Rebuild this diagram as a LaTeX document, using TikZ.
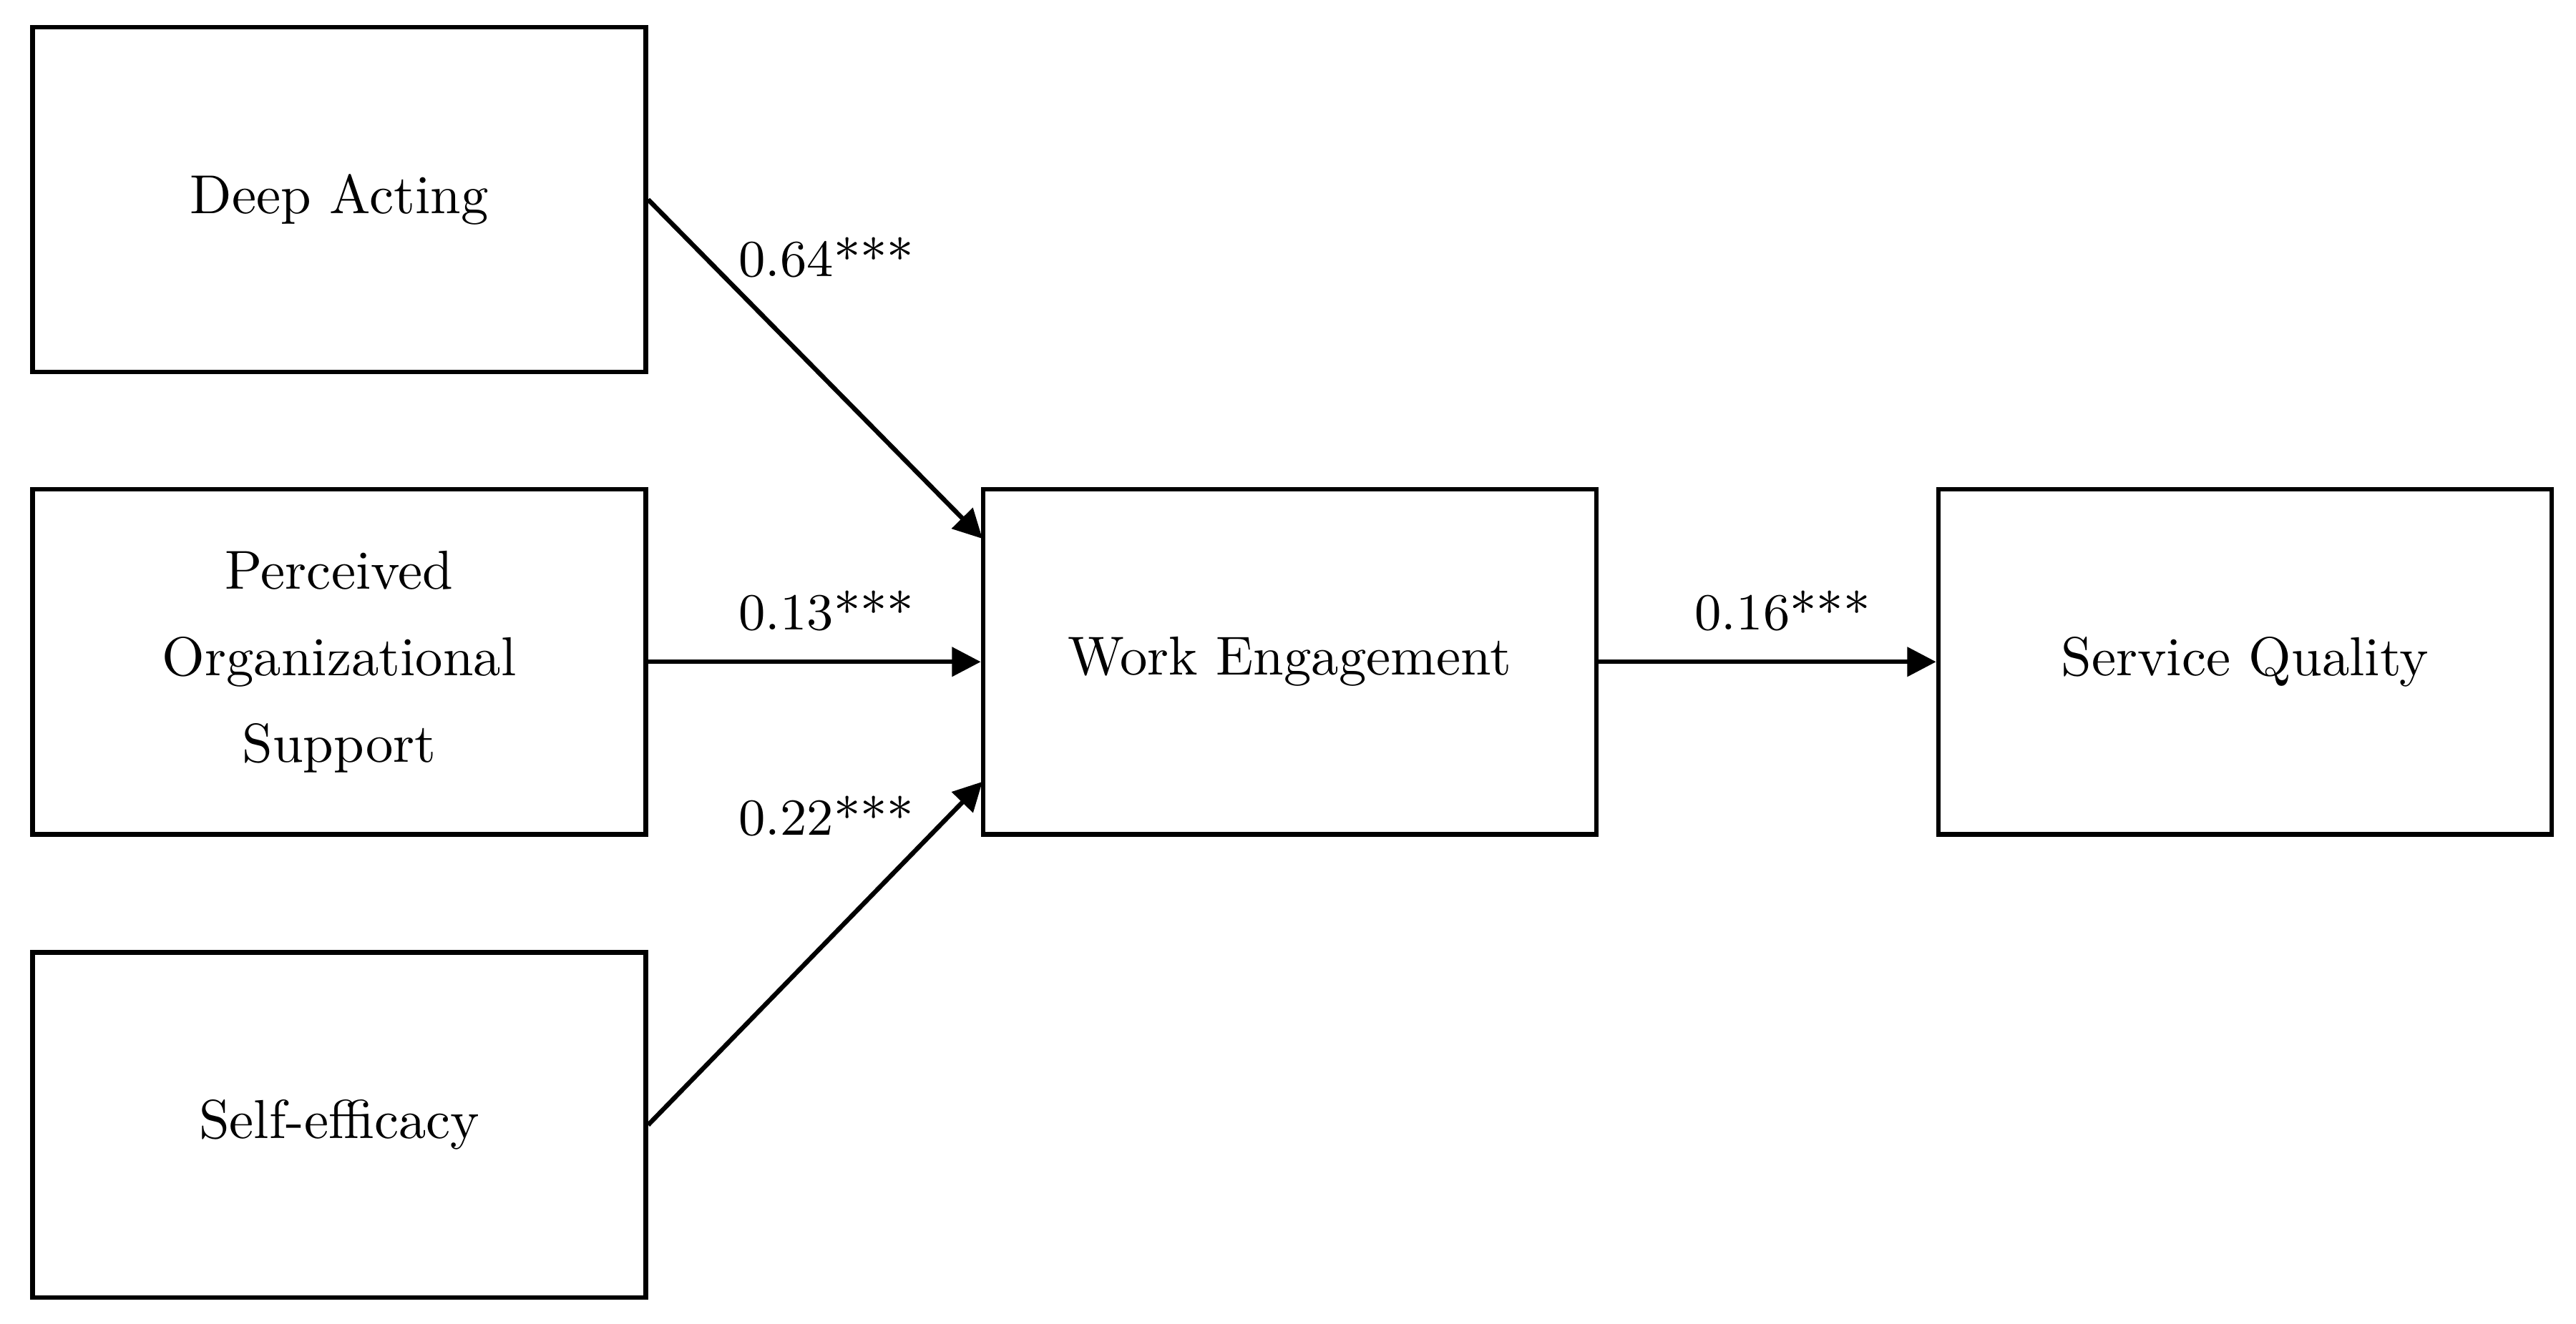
\documentclass[tikz,border=0pt]{standalone}
\usetikzlibrary{arrows.meta}
\begin{document}
\begin{tikzpicture}[x=0.01cm,y=-0.01cm,
  box/.style={draw,line width=0.8pt,minimum width=3.73cm,minimum height=2.1cm,align=center,inner sep=0pt,font=\fontsize{9.5}{15}\selectfont},
  arr/.style={-{Triangle[length=5pt,width=5pt]},line width=0.8pt},
  lab/.style={font=\fontsize{9}{11}\selectfont}]
\useasboundingbox (0,0) rectangle (1568,806);
\node[box] (da) at (206.5,121.5) {Deep Acting};
\node[box] (pos) at (206.5,403) {Perceived\\Organizational\\Support};
\node[box] (se) at (206.5,685) {Self-efficacy};
\node[box] (we) at (785,403) {Work Engagement};
\node[box] (sq) at (1366.5,403) {Service Quality};
\coordinate (w1) at (598,328);
\coordinate (w3) at (598,476);
\draw[arr] (da.east) -- (w1);
\draw[arr] (pos.east) -- (we.west);
\draw[arr] (se.east) -- (w3);
\draw[arr] (we.east) -- (sq.west);
\node[lab] (l1) at (503,157) {0.64***};
\node[lab] (l2) at (503,372) {0.13***};
\node[lab] (l3) at (503,497) {0.22***};
\node[lab] (l4) at (1085,372) {0.16***};
\end{tikzpicture}
\end{document}
